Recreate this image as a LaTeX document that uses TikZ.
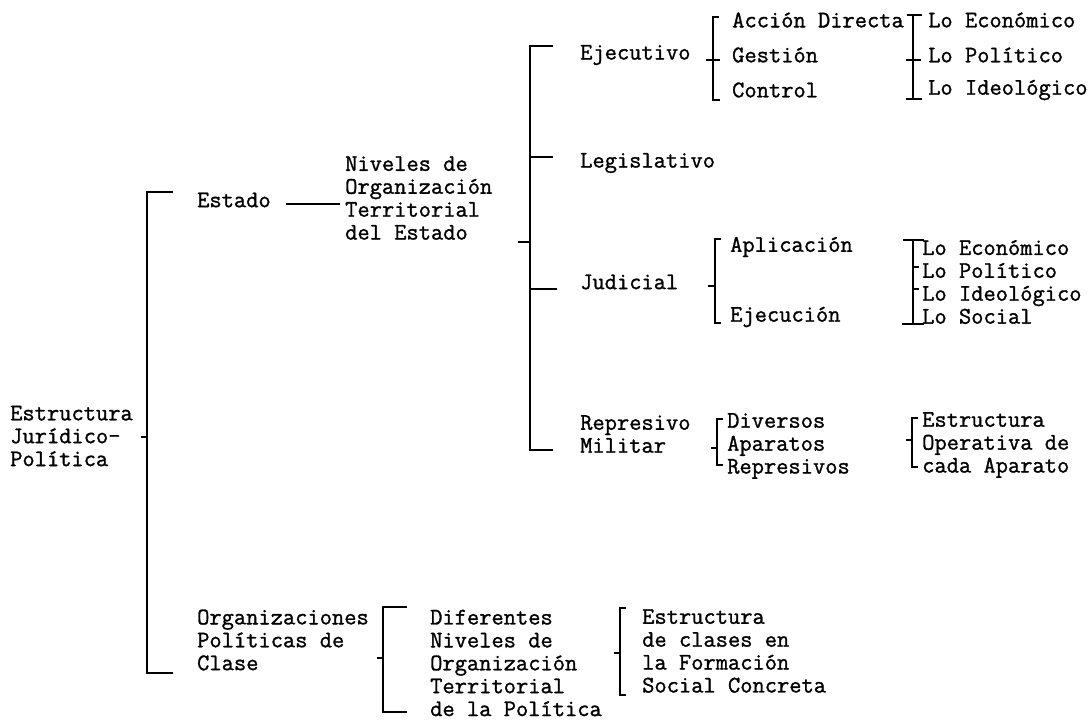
\documentclass[tikz,border=0pt]{standalone}
\usepackage{fontspec}
\setmainfont{Latin Modern Mono}[FakeBold=1.2]
\begin{document}
\begin{tikzpicture}[x=1pt,y=-1pt,
  lbl/.style={inner sep=0pt,anchor=west,align=left,font=\fontsize{23.8}{22.9}\selectfont},
  brk/.style={line width=2.2pt,line cap=butt,line join=miter}]
\useasboundingbox (0,0) rectangle (1091,721);
% ---- texts ----
\node[lbl] (ejp) at (10,436) {Estructura\\Jurídico-\\Política};
\node[lbl] (estado) at (197,200) {Estado};
\node[lbl] (niv) at (345,198) {Niveles de\\Organización\\Territorial\\del Estado};
\node[lbl] (ejec) at (580,55) {Ejecutivo};
\node[lbl] (leg) at (580,163) {Legislativo};
\node[lbl] (jud) at (580,282) {Judicial};
\node[lbl] (rep) at (580,434) {Represivo\\Militar};
\node[lbl] (acc) at (732,20) {Acción Directa};
\node[lbl] (ges) at (732,55) {Gestión};
\node[lbl] (con) at (732,90) {Control};
\node[lbl] (e1) at (928,20) {Lo Económico};
\node[lbl] (p1) at (928,55) {Lo Político};
\node[lbl] (i1) at (928,90) {Lo Ideológico};
\node[lbl] (apl) at (730,247) {Aplicación};
\node[lbl] (eje) at (730,317) {Ejecución};
\node[lbl] (lo2) at (922,282) {Lo Económico\\Lo Político\\Lo Ideológico\\Lo Social};
\node[lbl] (div) at (727,446) {Diversos\\Aparatos\\Represivos};
\node[lbl] (eop) at (922,445) {Estructura\\Operativa de\\cada Aparato};
\node[lbl] (opc) at (197,640) {Organizaciones\\Políticas de\\Clase};
\node[lbl] (dif) at (430,663) {Diferentes\\Niveles de\\Organización\\Territorial\\de la Política};
\node[lbl] (ecl) at (642,651) {Estructura\\de clases en\\la Formación\\Social Concreta};
% ---- coordinates ----
\coordinate (b1t) at (147,192); \coordinate (b1b) at (147,673);
\coordinate (b2t) at (530,46);  \coordinate (b2b) at (530,450);
% ---- brackets ----
% root
\draw[brk] (141,437) -- (147,437);
\draw[brk] (173,192) -- (b1t) -- (b1b) -- (173,673);
% Estado -> Niveles
\draw[brk] (286,204) -- (340,204);
% Niveles bracket
\draw[brk] (518,242) -- (530,242);
\draw[brk] (553,46) -- (b2t) -- (b2b) -- (553,450);
\draw[brk] (530,157) -- (553,157);
\draw[brk] (530,289) -- (557,289);
% Ejecutivo
\draw[brk] (719,17) -- (713,17) -- (713,100) -- (720,100);
\draw[brk] (706,60) -- (720,60);
% Lo (ejecutivo)
\draw[brk] (907,15) -- (922,15);
\draw[brk] (913,15) -- (913,99);
\draw[brk] (906,60) -- (921,60);
\draw[brk] (906,99) -- (922,99);
% Judicial
\draw[brk] (721,239) -- (715,239) -- (715,323) -- (721,323);
\draw[brk] (708,286) -- (715,286);
% Lo (judicial)
\draw[brk] (903,240) -- (924,240);
\draw[brk] (913,240) -- (913,324);
\draw[brk] (902,324) -- (924,324);
\draw[brk] (913,267) -- (919,267);
\draw[brk] (913,289) -- (919,289);
% Represivo
\draw[brk] (723,419) -- (717,419) -- (717,465) -- (723,465);
\draw[brk] (711,448) -- (717,448);
% Estructura operativa
\draw[brk] (918,418) -- (912,418) -- (912,467) -- (918,467);
\draw[brk] (906,440) -- (912,440);
% Organizaciones
\draw[brk] (407,607) -- (383,607) -- (383,712) -- (407,712);
\draw[brk] (377,658) -- (383,658);
% Estructura de clases
\draw[brk] (626,608) -- (620,608) -- (620,695) -- (626,695);
\draw[brk] (614,653) -- (620,653);
\end{tikzpicture}
\end{document}
